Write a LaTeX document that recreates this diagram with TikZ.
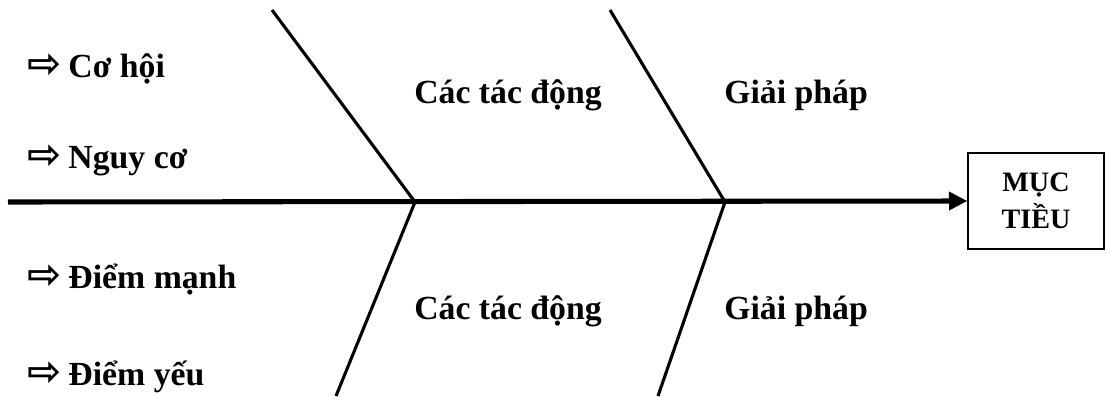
\documentclass[tikz,border=0pt]{standalone}
\usepackage{fontspec}
\setmainfont{Liberation Serif}
\newfontfamily\symfont{DejaVu Sans Bold}
\usetikzlibrary{arrows.meta,positioning}

\begin{document}
\begin{tikzpicture}[x=0.025cm, y=-0.025cm,
    every node/.style={font=\fontsize{24}{28}\selectfont\bfseries},
    item/.style={anchor=base west, inner sep=0pt},
    label/.style={anchor=base west, inner sep=0pt},
    bone/.style={line width=2.2pt},
    spine/.style={line width=3.6pt, -{Triangle[length=4.6mm,width=4.4mm]}}]
        \useasboundingbox (0,0) rectangle (1107,396);
        % ket qua
        \node[draw, line width=1.4pt, minimum width=3.38cm, minimum height=2.4cm, align=center,
              font=\fontsize{20}{26}\selectfont\bfseries] (goal) at (1036,201) {MỤC\\TIỀU};
        % xuong ca
        \coordinate (tail) at (8,202);
        \coordinate (joinA) at (415,202);
        \coordinate (joinB) at (725,202);
        \coordinate (topA) at (272,10);
        \coordinate (topB) at (610,10);
        \coordinate (botA) at (336,396);
        \coordinate (botB) at (658,396);
        \draw[spine] (tail) -- (goal.west);
        \draw[bone] (topA) -- (joinA) -- (botA);
        \draw[bone] (topB) -- (joinB) -- (botB);
        % cac yeu to
        \node[item] (chance) at (27,77) {{\symfont\fontsize{29}{30}\selectfont ⇨}\hspace{5pt}Cơ hội};
        \node[item] (risk) at (27,168) {{\symfont\fontsize{29}{30}\selectfont ⇨}\hspace{5pt}Nguy cơ};
        \node[item] (strong) at (27,288) {{\symfont\fontsize{29}{30}\selectfont ⇨}\hspace{5pt}Điểm mạnh};
        \node[item] (weak) at (27,385) {{\symfont\fontsize{29}{30}\selectfont ⇨}\hspace{5pt}Điểm yếu};
        \node[label] (effectA) at (414,103) {Các tác động};
        \node[label] (effectB) at (414,319) {Các tác động};
        \node[label] (solveA) at (724,103) {Giải pháp};
        \node[label] (solveB) at (724,319) {Giải pháp};
      \end{tikzpicture}
\end{document}
